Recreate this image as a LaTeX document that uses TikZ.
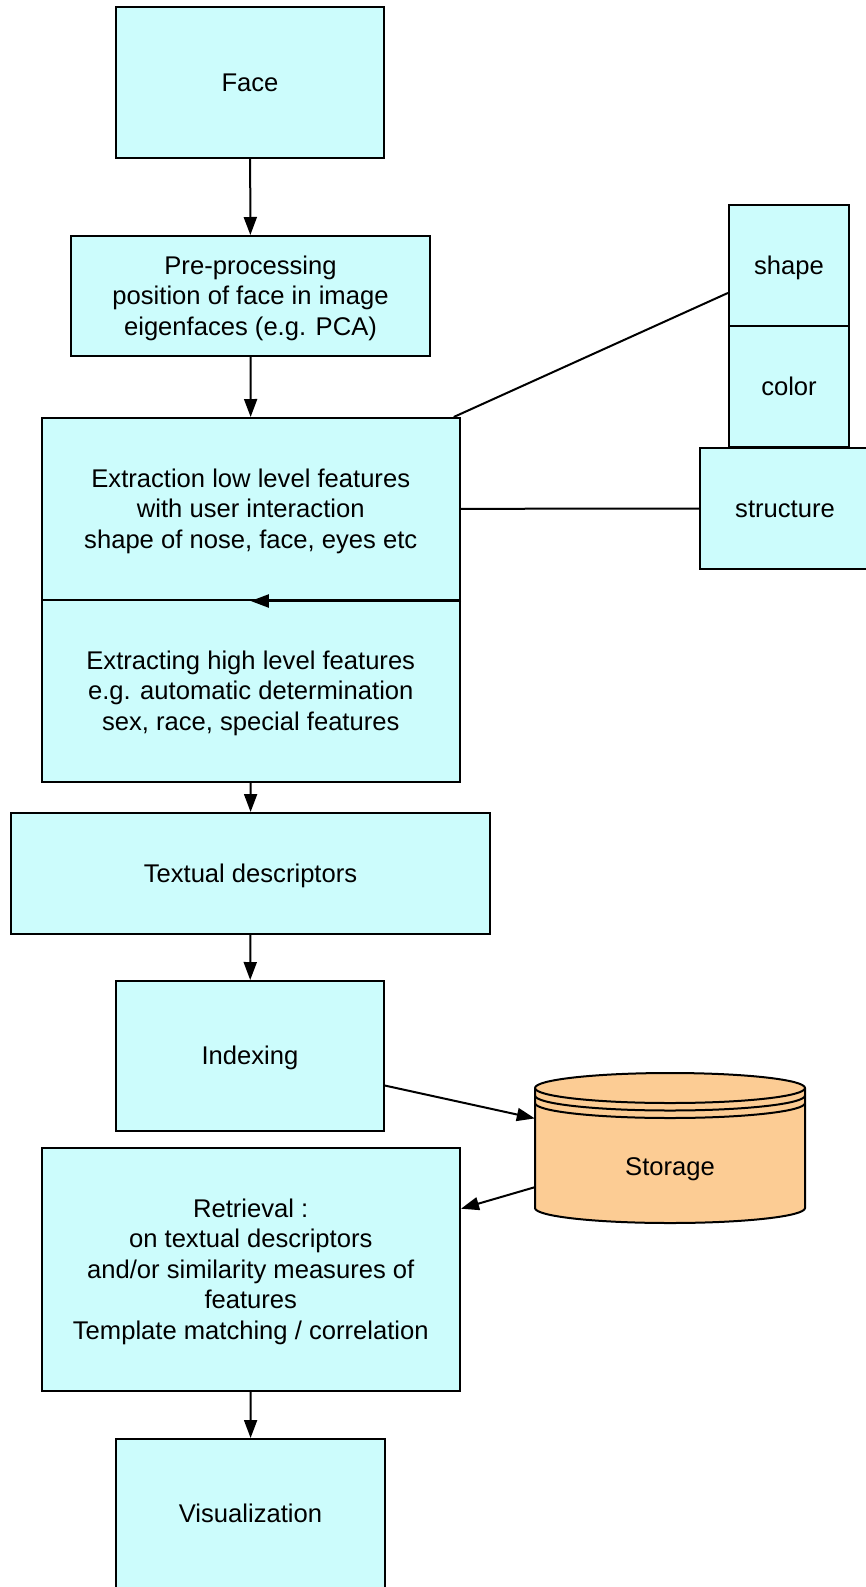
\documentclass[tikz,border=0pt]{standalone}
\usepackage{fontspec}
\setmainfont{Liberation Sans}
\usetikzlibrary{arrows.meta}
\definecolor{boxfill}{HTML}{CCFCFC}
\definecolor{storfill}{HTML}{FCCC94}
\newcommand\lnstrut{\rule[-6.6pt]{0pt}{30.6pt}}
\tikzset{
  lbl/.style={inner sep=0pt, align=center, font=\fontsize{25.6}{30.4}\selectfont},
  box/.style={lbl, draw=black, line width=2pt, fill=boxfill},
  arr/.style={line width=2pt, -{Triangle[length=18pt,width=13pt]}},
  lnk/.style={line width=2pt},
}
\begin{document}
\begin{tikzpicture}[x=1pt,y=1pt]
\useasboundingbox (0,0) rectangle (866,-1587);
\node[box, minimum width=268pt, minimum height=151pt] (face) at (250,-82.5) {\lnstrut Face\lnstrut};
\node[box, minimum width=359pt, minimum height=120pt] (pre) at (250.5,-296) {\lnstrut Pre-processing\\position of face in image\\eigenfaces (e.g. PCA)\lnstrut};
\node[box, minimum width=418.5pt, minimum height=182pt] (low) at (250.75,-509) {\lnstrut Extraction low level features\\with user interaction\\shape of nose, face, eyes etc\lnstrut};
\node[box, minimum width=418.5pt, minimum height=182pt] (high) at (250.75,-691) {\lnstrut Extracting high level features\\e.g. automatic determination\\sex, race, special features\lnstrut};
\node[box, minimum width=479pt, minimum height=121pt] (textd) at (250.5,-873.5) {\lnstrut Textual descriptors\lnstrut};
\node[box, minimum width=268pt, minimum height=150pt] (idx) at (250,-1056) {\lnstrut Indexing\lnstrut};
\node[box, minimum width=418.5pt, minimum height=243pt] (ret) at (250.75,-1269.5) {\lnstrut Retrieval :\\on textual descriptors\\and/or similarity measures of\\features\\Template matching / correlation\lnstrut};
\node[box, minimum width=269pt, minimum height=149pt] (vis) at (250.5,-1513.5) {\lnstrut Visualization\lnstrut};
\node[box, minimum width=120pt, minimum height=121pt] (shape) at (789,-265.5) {\lnstrut shape\lnstrut};
\node[box, minimum width=120pt, minimum height=121pt] (color) at (789,-386.5) {\lnstrut color\lnstrut};
\node[box, minimum width=170pt, minimum height=121pt] (structure) at (785,-508.5) {\lnstrut structure\lnstrut};
% storage cylinder
\filldraw[fill=storfill, draw=black, line width=2pt]
  (535,-1088) -- (535,-1208) arc[start angle=180, end angle=360, x radius=135, y radius=15]
  -- (805,-1088) arc[start angle=0, end angle=180, x radius=135, y radius=15] -- cycle;
\draw[lnk] (535,-1088) arc[start angle=180, end angle=360, x radius=135, y radius=15];
\draw[lnk] (535,-1095.5) arc[start angle=180, end angle=360, x radius=135, y radius=15];
\draw[lnk] (535,-1103) arc[start angle=180, end angle=360, x radius=135, y radius=15];
\node[inner sep=0pt, minimum width=270pt, minimum height=150pt] (storage) at (670,-1148) {};
\node[lbl] (storagelabel) at (670,-1166.5) {\lnstrut Storage\lnstrut};
% connectors
\draw[arr] (face) -- (pre);
\draw[arr] (pre) -- (low);
\draw[lnk] (low) -- (shape);
\draw[lnk] (low) -- (structure);
\draw[arr] (low.south east) -- (low.south);
\draw[arr] (high) -- (textd);
\draw[arr] (textd) -- (idx);
\draw[arr] (idx) -- (storage);
\draw[arr] (storage) -- (ret);
\draw[arr] (ret) -- (vis);
\end{tikzpicture}
\end{document}
